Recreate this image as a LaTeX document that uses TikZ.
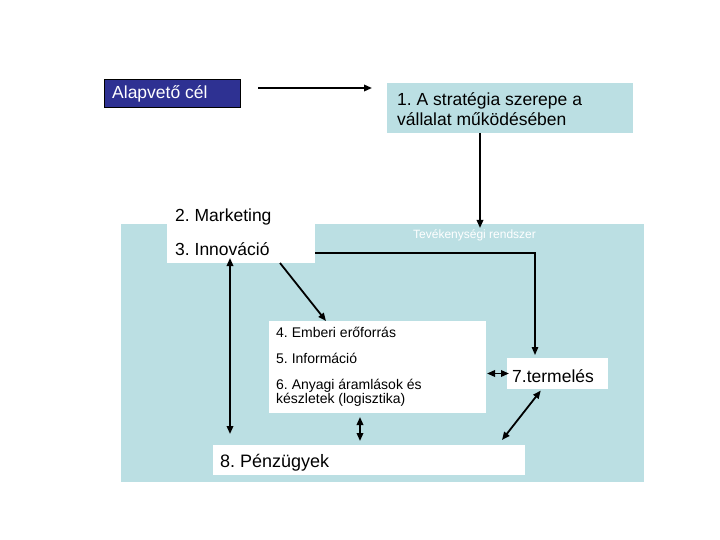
\documentclass[tikz,border=0pt]{standalone}
\usepackage{fontspec}
\setmainfont{Liberation Sans}
\usetikzlibrary{arrows.meta,calc}
\definecolor{lblue}{HTML}{BBDFE3}
\definecolor{dblue}{HTML}{2E3192}
\frenchspacing
\begin{document}
\begin{tikzpicture}[x=1pt,y=-1pt,
  rectbox/.style={anchor=north west, inner sep=0pt, outer sep=0pt},
  bigtxt/.style={font=\fontsize{17.5}{21}\selectfont, inner sep=0pt, anchor=base west},
  smalltxt/.style={font=\fontsize{14}{15}\selectfont, inner sep=0pt, anchor=base west},
  tip/.tip={Triangle[length=8pt,width=6.5pt]},
  arr/.style={line width=1.8pt, -tip},
  dbl/.style={line width=1.8pt, tip-tip}]
\fill[white] (0,0) rectangle (720,540);
\useasboundingbox (0,0) rectangle (720,540);
% boxes
\node[rectbox, fill=lblue, minimum width=523pt, minimum height=258pt] (sys) at (121,224) {};
\node[rectbox, fill=dblue, draw=black, line width=0.8pt, minimum width=136pt, minimum height=28pt] (alap) at (104,79) {};
\node[rectbox, fill=lblue, minimum width=246pt, minimum height=50pt] (box1) at (387,83) {};
\node[rectbox, fill=white, minimum width=148pt, minimum height=59pt] (mi) at (167,204) {};
\node[rectbox, fill=white, minimum width=217pt, minimum height=92pt] (b4) at (269,321) {};
\node[rectbox, fill=white, minimum width=101pt, minimum height=31pt] (term) at (507,358) {};
\node[rectbox, fill=white, minimum width=312pt, minimum height=30pt] (fin) at (213,445) {};
% texts
\node[bigtxt, text=white] (alapt) at (112,99) {Alapvető cél};
\node[bigtxt] (b1a) at (397,106) {1. A stratégia szerepe a};
\node[bigtxt] (b1b) at (397,126) {vállalat működésében};
\node[bigtxt] (mark) at (175,222) {2. Marketing};
\node[bigtxt] (inno) at (175,255) {3. Innováció};
\node[font=\fontsize{12}{14}\selectfont, inner sep=0pt, anchor=base west, text=white] (tev) at (413,239) {Tevékenységi rendszer};
\node[smalltxt] (l4) at (276,337) {4. Emberi erőforrás};
\node[smalltxt] (l5) at (276,363) {5. Információ};
\node[smalltxt] (l6) at (276,389) {6. Anyagi áramlások és};
\node[smalltxt] (l6b) at (276,403) {készletek (logisztika)};
\node[bigtxt] (termt) at (512,382) {7.termelés};
\node[font=\fontsize{18}{21}\selectfont, inner sep=0pt, anchor=base west] (fint) at (220,467) {8. Pénzügyek};
% connectors
\draw[arr, shorten <=18pt, shorten >=15pt] ([yshift=5pt]alap.east) -- ([yshift=5pt]alap.east -| box1.west);
\draw[arr, shorten >=-4pt] ([xshift=-30pt]box1.south) -- ([xshift=-30pt]box1.south |- sys.north);
\draw[line width=1.3pt, -tip, shorten >=3pt] ([yshift=-19.5pt]mi.east) -| ([xshift=-22.5pt]term.north);
\draw[arr] ([xshift=39pt]mi.south) -- ([xshift=-51.5pt]b4.north);
\draw[dbl, shorten <=-5pt, shorten >=11pt] ([xshift=-11pt]mi.south) -- ([xshift=-11pt]mi.south |- fin.north);
\draw[dbl, shorten <=4pt, shorten >=4pt] ([xshift=-17.5pt]b4.south) -- ([xshift=-17.5pt]b4.south |- fin.north);
\draw[dbl, shorten <=1pt, shorten >=-2pt] (term.west -| b4.east) -- (term.west);
\draw[dbl, shorten <=2pt] ([xshift=-15.5pt]term.south) -- ([xshift=-23pt,yshift=5pt]fin.north east);
\end{tikzpicture}
\end{document}
